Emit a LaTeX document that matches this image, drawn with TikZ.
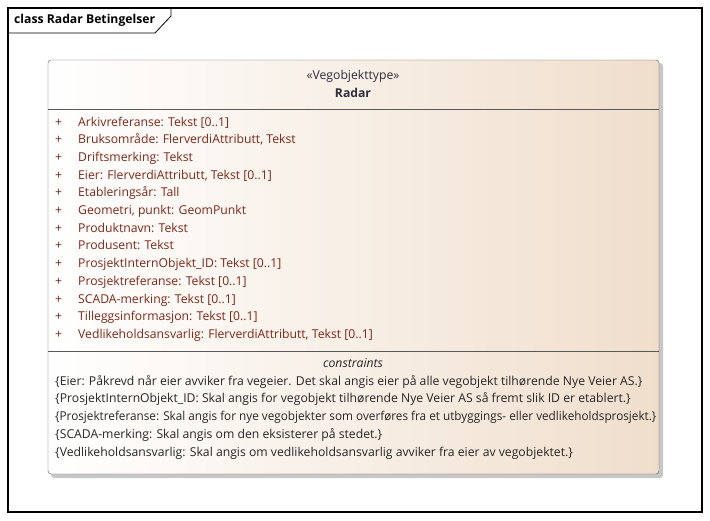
\documentclass[tikz,border=0pt]{standalone}
\usepackage{fontspec}
\setmainfont{Open Sans}
\usepackage{tikz}
\definecolor{attrtext}{RGB}{125,40,25}
\definecolor{headtext}{RGB}{45,45,60}
\definecolor{classfill}{RGB}{240,222,204}

\begin{document}
\begin{tikzpicture}[x=1pt, y=-1pt]
\tikzstyle{every node} = [inner sep=0pt, text height=9pt, text depth=3pt, font=\fontsize{12.2}{14}\selectfont]
\tikzstyle{attr} = [anchor=west, text=attrtext]
\tikzstyle{rule} = [anchor=west, text=black!85]
\useasboundingbox (0,0) rectangle (710,520);
% frame
\draw[line width=1.2pt] (8,8) rectangle (702,512);
\draw[line width=0.8pt] (8,33) -- (155,33) -- (171,16) -- (171,8);
\node[anchor=west, font=\bfseries\fontsize{12.2}{14}\selectfont] (frame) at (14,20.5) {class Radar Betingelser};
% class box
\fill[black!22, rounded corners=3pt] (51,63) rectangle (663,478);
\shade[left color=white, right color=classfill, rounded corners=3pt] (48,60) rectangle (659,474);
\draw[black!65, rounded corners=3pt] (48,60) rectangle (659,474);
\draw[black!65] (48,109) -- (659,109);
\draw[black!65] (48,351) -- (659,351);
\node[text=headtext] (stereo) at (353,76.5) {«Vegobjekttype»};
\node[font=\bfseries\fontsize{12.2}{14}\selectfont, text=headtext] (radar) at (353,94) {Radar};
% attributes
\foreach \name [count=\i] in {Arkivreferanse: Tekst [0..1],
  {Bruksområde: FlerverdiAttributt, Tekst},
  Driftsmerking: Tekst,
  {Eier: FlerverdiAttributt, Tekst [0..1]},
  Etableringsår: Tall,
  {Geometri, punkt: GeomPunkt},
  Produktnavn: Tekst,
  Produsent: Tekst,
  ProsjektInternObjekt\_ID: Tekst [0..1],
  Prosjektreferanse: Tekst [0..1],
  SCADA-merking: Tekst [0..1],
  Tilleggsinformasjon: Tekst [0..1],
  {Vedlikeholdsansvarlig: FlerverdiAttributt, Tekst [0..1]}}
{
\node[attr] (plus\i) at (55,105.3+\i*17.7) {+};
\node[attr] (attr\i) at (78,105.3+\i*17.7) {\name};
}
% constraints
\node[font=\itshape\fontsize{12.2}{14}\selectfont, text=black!85] (constr) at (353,364.5) {constraints};
\foreach \txt [count=\i] in {{\{Eier: Påkrevd når eier avviker fra vegeier. Det skal angis eier på alle vegobjekt tilhørende Nye Veier AS.\}},
  {\{ProsjektInternObjekt\_ID: Skal angis for vegobjekt tilhørende Nye Veier AS så fremt slik ID er etablert.\}},
  {\scalebox{0.963}[1]{\{Prosjektreferanse: Skal angis for nye vegobjekter som overføres fra et utbyggings- eller vedlikeholdsprosjekt.\}}},
  {\{SCADA-merking: Skal angis om den eksisterer på stedet.\}},
  {\{Vedlikeholdsansvarlig: Skal angis om vedlikeholdsansvarlig avviker fra eier av vegobjektet.\}}}
{
\node[rule] (rule\i) at (55,364.5+\i*17.7) {\txt};
}
\end{tikzpicture}
\end{document}
